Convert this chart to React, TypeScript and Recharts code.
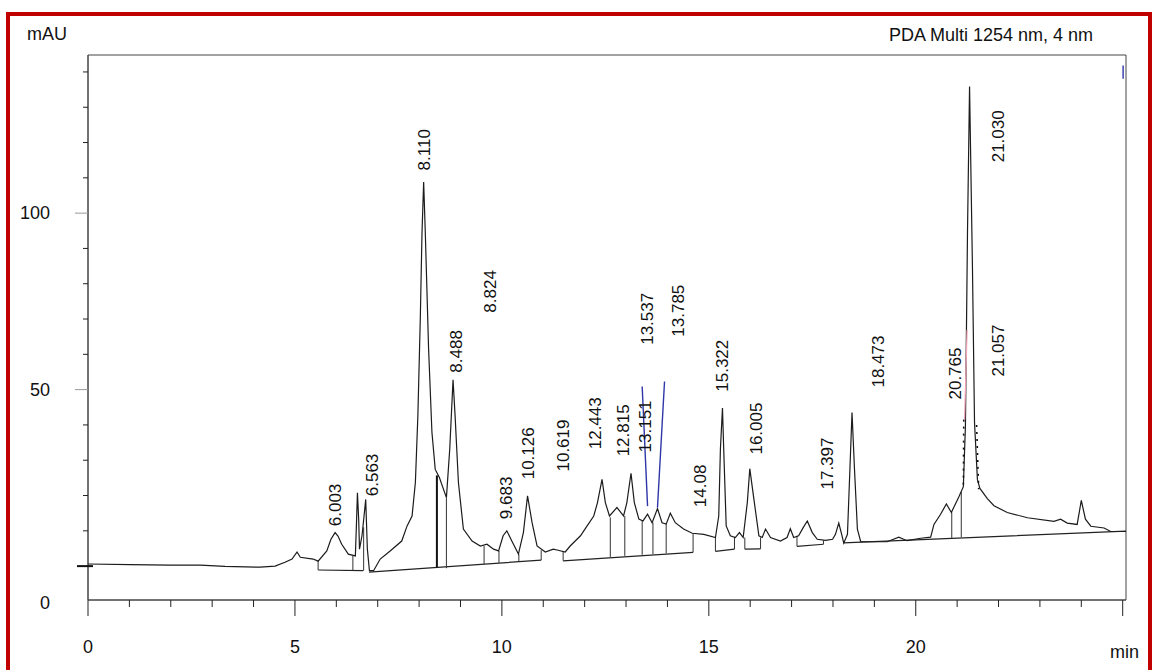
import { ComposedChart, Line, Scatter, XAxis, YAxis, ReferenceArea } from 'recharts'

const FONT = '"Liberation Sans", Arial, sans-serif'

const X_MAX = 25.08
const Y_MIN = -9.6
const Y_MAX = 144.8

const xTicks = [0, 1, 2, 3, 4, 5, 6, 7, 8, 9, 10, 11, 12, 13, 14, 15, 16, 17, 18, 19, 20, 21, 22, 23, 24, 25]
const yTicks = [Y_MIN, 0, 10, 20, 30, 40, 50, 60, 70, 80, 90, 100, 110, 120, 130, 140]

// detector signal, [time min, mAU]
const trace: [number, number][] = [
  [0, 0.6], [1.02, 0.4], [1.98, 0.3], [2.71, 0.3], [3.31, -0.1], [4.16, -0.3], [4.52, 0], [4.76, 1.1],
  [4.93, 2.0], [5.05, 4.0], [5.13, 2.5], [5.44, 2.0], [5.56, 1.4], [5.77, 4.3], [5.87, 7.6], [5.97, 9.5],
  [6.04, 8.5], [6.13, 6.2], [6.29, 3.4], [6.46, 2.9], [6.49, 13.3], [6.51, 20.8], [6.54, 13.3], [6.56, 4.8],
  [6.62, 8.6], [6.67, 14.2], [6.71, 18.9], [6.75, 4.8], [6.8, -1.3], [6.9, -1.3], [7.06, 2.0], [7.3, 4.3],
  [7.58, 7.1], [7.71, 11.4], [7.83, 14.2], [7.91, 23.7], [7.97, 42.5], [8.03, 70.7], [8.07, 94.4], [8.11, 108.8],
  [8.15, 94.4], [8.23, 61.3], [8.31, 37.9], [8.39, 27.4], [8.49, 25.1], [8.66, 19.4], [8.74, 33.1], [8.82, 52.8],
  [8.87, 42.5], [8.95, 23.7], [9.07, 10.5], [9.28, 7.1], [9.48, 5.7], [9.64, 6.2], [9.8, 4.8], [9.92, 4.3],
  [10.03, 8.6], [10.12, 10.0], [10.24, 7.1], [10.4, 3.4], [10.52, 9.5], [10.62, 19.9], [10.73, 12.3], [10.85, 5.7],
  [11.05, 4.0], [11.24, 4.8], [11.36, 4.5], [11.53, 4.0], [11.65, 5.7], [11.9, 8.6], [12.06, 11.4], [12.22, 14.2],
  [12.31, 18.0], [12.42, 24.6], [12.5, 18.0], [12.6, 14.2], [12.78, 16.6], [12.94, 14.2], [13.02, 18.0], [13.12, 26.3],
  [13.2, 18.0], [13.31, 13.3], [13.41, 12.8], [13.52, 14.7], [13.63, 12.3], [13.76, 16.3], [13.87, 12.3], [13.97, 11.9],
  [14.07, 15.0], [14.19, 12.3], [14.39, 10.5], [14.6, 9.3], [14.88, 9.0], [15.16, 8.1], [15.24, 14.2], [15.28, 33.1],
  [15.33, 44.8], [15.36, 33.1], [15.42, 11.4], [15.52, 8.6], [15.64, 8.1], [15.74, 9.5], [15.83, 8.1], [15.93, 18.0],
  [15.99, 27.6], [16.09, 18.9], [16.21, 8.6], [16.29, 8.1], [16.37, 10.5], [16.49, 8.1], [16.73, 7.1], [16.89, 8.1],
  [16.97, 10.6], [17.05, 8.1], [17.17, 8.6], [17.28, 10.9], [17.38, 12.8], [17.5, 9.5], [17.62, 7.6], [17.82, 7.3],
  [17.99, 7.6], [18.06, 9.0], [18.14, 12.2], [18.21, 9.0], [18.26, 6.5], [18.35, 9.0], [18.4, 24.6], [18.46, 43.5],
  [18.52, 27.4], [18.59, 10.5], [18.67, 6.9], [19.31, 6.9], [19.59, 8.2], [19.79, 7.2], [20.12, 7.9], [20.36, 8.2],
  [20.44, 11.8], [20.6, 14.7], [20.74, 17.6], [20.86, 15.2], [21.04, 19.6], [21.15, 22.5], [21.2, 39.6], [21.25, 94.4],
  [21.3, 135.9], [21.37, 84.6], [21.42, 40.7], [21.49, 24.5], [21.55, 22.0], [21.73, 19.1], [21.89, 17.1], [22.21, 15.2],
  [22.7, 13.7], [23.34, 12.7], [23.5, 13.3], [23.66, 12.2], [23.9, 11.8], [24.0, 18.6], [24.1, 13.3], [24.23, 11.3],
  [24.55, 10.8], [24.71, 9.8], [25.08, 9.8],
]

// integration baselines [t1, v1, t2, v2]
const baselines: number[][] = [
  [5.56, -1.1, 6.65, -1.3],
  [6.79, -1.7, 10.95, 1.7],
  [11.48, 1.5, 14.62, 3.9],
  [15.16, 4.2, 15.62, 4.8],
  [15.87, 4.8, 16.25, 4.9],
  [17.13, 5.6, 17.77, 6.2],
  [18.25, 6.6, 25.08, 9.9],
]

// peak drop lines [t, top, bottom]
const dropLines: number[][] = [
  [5.56, 1.4, -1.1], [6.4, 2.9, -1.2], [6.66, 11, -1.3], [8.66, 19.4, -0.6], [9.57, 5.7, 0.6],
  [9.93, 4.3, 0.9], [10.41, 3.4, 1.4], [10.95, 4.5, 1.7], [11.48, 4.3, 1.5], [12.62, 13.8, 2.6],
  [12.97, 14.2, 2.9], [13.39, 12.8, 3.2], [13.65, 12.3, 3.4], [13.97, 11.9, 3.6], [14.62, 9.3, 3.9],
  [15.16, 8.1, 4.2], [15.62, 8.3, 4.8], [15.87, 8.1, 4.8], [16.25, 8.1, 4.9], [17.13, 8.6, 5.6],
  [17.77, 7.3, 6.2], [20.87, 15.2, 8.0], [21.1, 21.0, 8.2],
]
const thickDrops: number[][] = [[8.43, 25.7, -0.4]]

// tangent skims (blue), marks on the main peak
const tangents: number[][] = [
  [13.39, 50.9, 13.52, 17.0],
  [13.93, 52.3, 13.76, 16.6],
  [25.01, 141.8, 25.01, 138.1],
]
const pinkMarks: number[][] = [[21.18, 41.5, 21.24, 66.9]]
const dottedMarks: number[][] = [
  [21.16, 41.5, 21.15, 21.8],
  [21.47, 40.0, 21.52, 21.8],
]

// peak labels: [name, t, v] (v = lower end of the rotated text)
const peaks: [string, number, number][] = [
  ['6.003', 5.97, 11.3], ['6.563', 6.86, 19.8], ['8.110', 8.11, 112.1], ['8.824', 9.72, 71.8],
  ['8.488', 8.9, 54.8], ['9.683', 10.11, 13.3], ['10.126', 10.64, 24.6], ['10.619', 11.48, 26.8],
  ['12.443', 12.26, 33.1], ['12.815', 12.94, 31.1], ['13.151', 13.47, 32.2], ['13.537', 13.52, 62.7],
  ['13.785', 14.26, 65.0], ['14.08', 14.8, 16.7], ['15.322', 15.33, 49.4], ['16.005', 16.13, 31.6],
  ['17.397', 17.86, 21.7], ['18.473', 19.08, 50.6], ['20.765', 20.94, 47.2], ['21.030', 21.98, 114.4],
  ['21.057', 21.98, 53.7],
]

const toRows = (segs: number[][]) =>
  segs.flatMap(([t1, v1, t2, v2]) => [{ t: t1, v: v1 }, { t: t2, v: v2 }, { t: t2, v: null }])
const dropRows = (segs: number[][]) => toRows(segs.map(([t, a, b]) => [t, a, t, b]))

const traceRows = trace.map(([t, v]) => ({ t, v }))
const peakRows = peaks.map(([name, t, v]) => ({ name, t, v }))

function XTick(props: any) {
  const { x, y, payload } = props
  const major = payload.value % 5 === 0
  return (
    <g>
      <line x1={x} x2={x} y1={y} y2={y + (major ? 16 : 7)} stroke="#222" strokeWidth={1} />
      {major && payload.value < 25 && (
        <text x={x} y={y + 47} dy="0.35em" textAnchor="middle" fontSize={18} fontFamily={FONT} fill="#111">
          {payload.value}
        </text>
      )}
    </g>
  )
}

function YTick(props: any) {
  const { x, y, payload } = props
  const v = payload.value
  if (v === Y_MIN) {
    return (
      <text x={x - 38} y={y + 3} dy="0.35em" textAnchor="end" fontSize={18} fontFamily={FONT} fill="#111">0</text>
    )
  }
  if (v === 0) return <line x1={x - 11} x2={x + 5} y1={y} y2={y} stroke="#111" strokeWidth={2} />
  if (v % 50 === 0) {
    return (
      <g>
        <line x1={x - 13} x2={x} y1={y} y2={y} stroke="#999" strokeWidth={1} />
        <text x={x - 38} y={y} dy="0.35em" textAnchor="end" fontSize={18} fontFamily={FONT} fill="#111">{v}</text>
      </g>
    )
  }
  return <line x1={x - 5} x2={x} y1={y} y2={y} stroke="#222" strokeWidth={1} />
}

function PeakLabel(props: any) {
  const { cx, cy, payload } = props
  return (
    <text x={cx} y={cy} dy="0.35em" transform={`rotate(-90 ${cx} ${cy})`} fontSize={17} fontFamily={FONT} fill="#111">
      {payload.name}
    </text>
  )
}

const lineProps = { type: 'linear' as const, dataKey: 'v', dot: false, activeDot: false, isAnimationActive: false, connectNulls: false }

export default function App() {
  return (
    <div style={{ position: 'absolute', left: 0, top: 0, width: 1154, height: 670, overflow: 'hidden', background: '#fff', fontFamily: FONT }}>
      <div style={{ position: 'absolute', left: 6, top: 12, width: 1146, height: 720, boxSizing: 'border-box', border: '4px solid #c00000', borderBottom: 'none' }} />
      <div style={{ position: 'absolute', left: 27, top: 24, fontSize: 18, color: '#111' }}>mAU</div>
      <div style={{ position: 'absolute', right: 61, top: 25, fontSize: 18, color: '#111' }}>PDA Multi 1254 nm, 4 nm</div>
      <div style={{ position: 'absolute', left: 1110, top: 642, fontSize: 18, color: '#111' }}>min</div>
      <div style={{ position: 'absolute', left: 0, top: 0 }}>
        <ComposedChart width={1154} height={670} margin={{ top: 55, right: 28, bottom: 40, left: 28 }}>
          <XAxis
            type="number"
            dataKey="t"
            domain={[0, X_MAX]}
            ticks={xTicks}
            allowDataOverflow
            interval={0}
            height={30}
            tickSize={0}
            tickMargin={0}
            tickLine={false}
            axisLine={{ stroke: '#444' }}
            tick={<XTick />}
          />
          <YAxis
            type="number"
            domain={[Y_MIN, Y_MAX]}
            ticks={yTicks}
            allowDataOverflow
            interval={0}
            width={60}
            tickSize={0}
            tickMargin={0}
            tickLine={false}
            axisLine={{ stroke: '#444' }}
            tick={<YTick />}
          />
          <ReferenceArea x1={0} x2={X_MAX} y1={Y_MIN} y2={Y_MAX} fill="none" stroke="#444" strokeWidth={1} />
          <Line {...lineProps} data={toRows(baselines)} stroke="#222" strokeWidth={1.2} />
          <Line {...lineProps} data={dropRows(dropLines)} stroke="#333" strokeWidth={1} />
          <Line {...lineProps} data={dropRows(thickDrops)} stroke="#111" strokeWidth={2} />
          <Line {...lineProps} data={traceRows} stroke="#1c1c1c" strokeWidth={1.2} />
          <Line {...lineProps} data={toRows(tangents)} stroke="#2f36a8" strokeWidth={1.4} />
          <Line {...lineProps} data={toRows(pinkMarks)} stroke="#f2a4b8" strokeWidth={1.2} />
          <Line {...lineProps} data={toRows(dottedMarks)} stroke="#111" strokeWidth={1.6} strokeDasharray="2 5" />
          <Scatter data={peakRows} dataKey="v" shape={<PeakLabel />} isAnimationActive={false} />
        </ComposedChart>
      </div>
    </div>
  )
}
